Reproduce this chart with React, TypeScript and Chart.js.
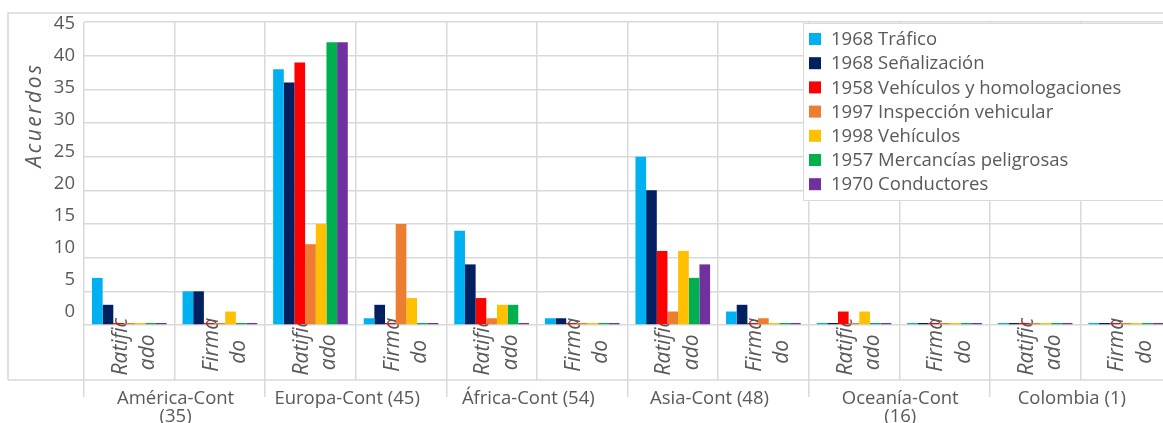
import React, { useEffect, useRef } from 'react';
import { Chart, registerables } from 'chart.js';

Chart.register(...registerables);

// Category labels (sub-level and group-level)
const subLabels: (string | string[])[] = [
  ['Ratific', 'ado   '], ['Firma', 'do    '],
  ['Ratific', 'ado   '], ['Firma', 'do    '],
  ['Ratific', 'ado   '], ['Firma', 'do    '],
  ['Ratific', 'ado   '], ['Firma', 'do    '],
  ['Ratific', 'ado   '], ['Firma', 'do    '],
  ['Ratific', 'ado   '], ['Firma', 'do    '],
];
const groupLabels: (string | string[])[] = [
  ['América-Cont', '(35)'],
  'Europa-Cont (45)    ',
  'África-Cont (54)    ',
  'Asia-Cont (48)    ',
  ['Oceanía-Cont', '(16)'],
  'Colombia (1)    ',
];

const seriesNames = [
  '1968 Tráfico',
  '1968 Señalización',
  '1958 Vehículos y homologaciones',
  '1997 Inspección vehicular',
  '1998 Vehículos',
  '1957 Mercancías peligrosas',
  '1970 Conductores',
];
const seriesColors = ['#00B0F0', '#002060', '#FF0000', '#ED7D31', '#FFC000', '#00B050', '#7030A0'];

// order: Am-R, Am-F, Eu-R, Eu-F, Af-R, Af-F, As-R, As-F, Oc-R, Oc-F, Co-R, Co-F
const trafico1968 = [7, 5, 38, 1, 14, 1, 25, 2, 0, 0, 0, 0];
const senalizacion1968 = [3, 5, 36, 3, 9, 1, 20, 3, 0, 0, 0, 0];
const vehiculos1958 = [0, 0, 39, 0, 4, 0, 11, 0, 2, 0, 0, 0];
const inspeccion1997 = [0, 0, 12, 15, 1, 0, 2, 1, 0, 0, 0, 0];
const vehiculos1998 = [0, 2, 15, 4, 3, 0, 11, 0, 2, 0, 0, 0];
const mercancias1957 = [0, 0, 42, 0, 3, 0, 7, 0, 0, 0, 0, 0];
const conductores1970 = [0, 0, 42, 0, 0, 0, 9, 0, 0, 0, 0, 0];
const seriesValues = [trafico1968, senalizacion1968, vehiculos1958, inspeccion1997, vehiculos1998, mercancias1957, conductores1970];

const yTickValues = [0, 5, 10, 15, 20, 25, 30, 35, 40, 45];
const yTitle = 'Acuerdos';

const TEXT = '#595959';
const GRID = '#d9d9d9';
const FONT = "'Open Sans', 'Noto Sans', sans-serif";

const decor = {
  id: 'decor',
  beforeDraw(chart: any) {
    const ctx = chart.ctx;
    ctx.save();
    ctx.strokeStyle = GRID;
    ctx.lineWidth = 1.5;
    ctx.beginPath();
    ctx.moveTo(8, 380);
    ctx.lineTo(8, 13);
    ctx.lineTo(chart.width, 13);
    ctx.moveTo(8, 380);
    ctx.lineTo(chart.width, 380);
    ctx.stroke();
    ctx.translate(35, 115);
    ctx.rotate(-Math.PI / 2);
    ctx.font = `italic 21px ${FONT}`;
    try { (ctx as any).letterSpacing = '2.5px'; } catch (e) {}
    ctx.fillStyle = TEXT;
    ctx.textAlign = 'center';
    ctx.textBaseline = 'middle';
    ctx.fillText(yTitle, 0, 0);
    ctx.restore();
  },
  afterDraw(chart: any) {
    const ctx = chart.ctx;
    ctx.save();
    const x0 = 803, y0 = 23, w = 420, h = 177;
    ctx.fillStyle = '#ffffff';
    ctx.fillRect(x0, y0, w, h);
    ctx.strokeStyle = GRID;
    ctx.lineWidth = 1;
    ctx.strokeRect(x0 + 0.5, y0 + 0.5, w, h);
    ctx.font = `18.5px ${FONT}`;
    ctx.textBaseline = 'middle';
    ctx.textAlign = 'left';
    chart.data.datasets.forEach((ds: any, i: number) => {
      const cy = 39 + i * 24.2;
      ctx.fillStyle = ds.backgroundColor;
      ctx.fillRect(809, cy - 6, 12, 12);
      ctx.fillStyle = TEXT;
      ctx.fillText(ds.label, 831, cy + 1);
    });
    ctx.restore();
  },
};

const noSidePadding = (s: any, h: number) => {
  s.height = h;
  s.paddingLeft = 0;
  s.paddingRight = 0;
};

export default function App() {
  const ref = useRef<HTMLCanvasElement | null>(null);
  useEffect(() => {
    if (!ref.current) return;
    Chart.defaults.font.family = FONT;
    Chart.defaults.color = TEXT;
    const chart = new Chart(ref.current, {
      type: 'bar',
      data: {
        labels: subLabels,
        datasets: seriesNames.map((name, i) => ({
          label: name,
          data: seriesValues[i],
          backgroundColor: seriesColors[i],
          borderWidth: 0,
          barPercentage: 1,
          categoryPercentage: 0.824,
          minBarLength: 2,
          xAxisID: 'x',
          yAxisID: 'y',
        })),
      },
      options: {
        animation: false,
        responsive: false,
        maintainAspectRatio: false,
        layout: { padding: { top: 22, left: 0, right: 0, bottom: 0 } },
        plugins: { legend: { display: false }, tooltip: { enabled: false } },
        scales: {
          x: {
            type: 'category',
            position: 'bottom',
            weight: 1,
            z: 1,
            grid: { offset: true, color: GRID, lineWidth: 1.5, drawTicks: true, tickLength: 55 },
            border: { display: false },
            ticks: {
              autoSkip: false,
              minRotation: 90,
              maxRotation: 90,
              mirror: true,
              padding: 7,
              labelOffset: 19,
              color: TEXT,
              font: { family: FONT, size: 21, style: 'italic', lineHeight: 1.3 },
            },
            afterFit: (s: any) => noSidePadding(s, 55),
          },
          x2: {
            type: 'category',
            position: 'bottom',
            weight: 2,
            labels: groupLabels as any,
            grid: { offset: true, color: GRID, lineWidth: 1.5, drawOnChartArea: false, drawTicks: true, tickLength: 17 },
            border: { display: false },
            ticks: {
              autoSkip: false,
              maxRotation: 0,
              minRotation: 0,
              padding: -8,
              labelOffset: 1,
              color: TEXT,
              font: { family: FONT, size: 18.5, lineHeight: 1.0 },
            },
            afterFit: (s: any) => noSidePadding(s, 43),
          },
          y: {
            type: 'linear',
            position: 'left',
            weight: 1,
            min: 0,
            max: 45,
            grid: { color: GRID, lineWidth: 1.5, drawTicks: false },
            border: { display: false },
            ticks: { display: false, stepSize: 5 },
            afterFit: (s: any) => { s.width = 0; },
          },
          yLab: {
            type: 'linear',
            position: 'left',
            weight: 2,
            min: -2.03,
            max: 45.31,
            grid: { display: false, drawTicks: false },
            border: { display: false },
            ticks: { color: TEXT, padding: 9, font: { family: FONT, size: 18.5 } },
            afterBuildTicks: (s: any) => { s.ticks = yTickValues.map((v) => ({ value: v })); },
            afterFit: (s: any) => { s.width = 84; },
          },
        },
      } as any,
      plugins: [decor],
    });
    return () => chart.destroy();
  }, []);
  return (
    <div style={{ position: 'absolute', left: 0, top: 0, width: 1163, height: 423, overflow: 'hidden', background: '#fff' }}>
      <canvas ref={ref} width={1171} height={423} style={{ display: 'block' }} />
    </div>
  );
}
